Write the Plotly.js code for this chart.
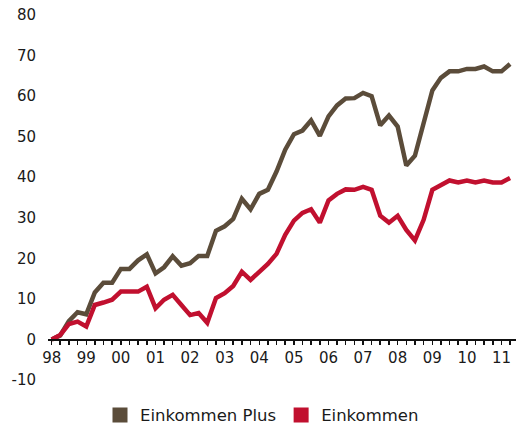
<!DOCTYPE html>
<html><head><meta charset="utf-8">
<script src="https://cdn.plot.ly/plotly-3.0.1.min.js"></script>
<style>html,body{margin:0;padding:0;background:#fff}#chart{width:524px;height:428px}</style>
</head><body><div id="chart"></div>
<script>
const quarters = [
  '1998-01','1998-04','1998-07','1998-10',
  '1999-01','1999-04','1999-07','1999-10',
  '2000-01','2000-04','2000-07','2000-10',
  '2001-01','2001-04','2001-07','2001-10',
  '2002-01','2002-04','2002-07','2002-10',
  '2003-01','2003-04','2003-07','2003-10',
  '2004-01','2004-04','2004-07','2004-10',
  '2005-01','2005-04','2005-07','2005-10',
  '2006-01','2006-04','2006-07','2006-10',
  '2007-01','2007-04','2007-07','2007-10',
  '2008-01','2008-04','2008-07','2008-10',
  '2009-01','2009-04','2009-07','2009-10',
  '2010-01','2010-04','2010-07','2010-10',
  '2011-01','2011-04'
];
const einkommenPlus = [
  0, 1, 4.5, 6.7, 6.2, 11.6, 14, 14, 17.4, 17.4, 19.5, 21,
  16.3, 17.8, 20.5, 18.2, 18.8, 20.6, 20.6, 26.8, 27.9, 29.7, 34.7, 32.1,
  35.9, 36.9, 41.4, 46.8, 50.6, 51.5, 54, 50.2, 55, 57.7, 59.4, 59.5,
  60.8, 60, 52.8, 55.2, 52.5, 42.9, 45.3, 53.3, 61.4, 64.5, 66.1, 66.1,
  66.7, 66.7, 67.3, 66.1, 66.1, 67.9
];
const einkommen = [
  0, 1.1, 3.8, 4.4, 3.2, 8.5, 9.1, 9.8, 11.8, 11.8, 11.8, 13,
  7.7, 9.8, 11, 8.5, 6, 6.5, 4.1, 10.2, 11.4, 13.2, 16.7, 14.7,
  16.5, 18.6, 21.1, 25.8, 29.3, 31.2, 32.1, 28.8, 34.3, 35.9, 37, 36.9,
  37.6, 36.9, 30.5, 28.8, 30.5, 27, 24.4, 29.5, 36.9, 38.1, 39.2, 38.7,
  39.2, 38.7, 39.2, 38.7, 38.7, 39.8
];
const seriesNames = ['Einkommen Plus', 'Einkommen'];
const yTickVals = [-10, 0, 10, 20, 30, 40, 50, 60, 70, 80];
const yTickText = ['-10', '0', '10', '20', '30', '40', '50', '60', '70', '80'];
const yRange = [-10, 80];
const xRange = ['1997-11-23', '2011-06-03'];

const brown = '#5b4c3a';
const red = '#c1102f';
const font = 'DejaVu Sans, sans-serif';

const traces = [
  {x: quarters, y: einkommenPlus, type: 'scatter', mode: 'lines', name: seriesNames[0],
   line: {color: brown, width: 4.5}, showlegend: false},
  {x: quarters, y: einkommen, type: 'scatter', mode: 'lines', name: seriesNames[1],
   line: {color: red, width: 4.5}, showlegend: false},
  {x: [null], y: [null], type: 'scatter', mode: 'markers', name: seriesNames[0],
   marker: {symbol: 'square', size: 15, color: brown}},
  {x: [null], y: [null], type: 'scatter', mode: 'markers', name: seriesNames[1],
   marker: {symbol: 'square', size: 15, color: red}}
];

const layout = {
  width: 524, height: 428,
  margin: {l: 48, r: 8, t: 15, b: 48},
  paper_bgcolor: '#fff', plot_bgcolor: '#fff',
  font: {family: font, color: '#1a1a1a', size: 15},
  xaxis: {
    type: 'date', range: xRange,
    anchor: 'free', position: -yRange[0] / (yRange[1] - yRange[0]),
    showline: true, linecolor: '#111', linewidth: 1.5,
    showgrid: false, zeroline: false,
    dtick: 'M12', tick0: '1998-01-01', tickformat: '%y',
    ticks: 'outside', ticklen: 4, tickwidth: 1.5, tickcolor: '#111',
    minor: {dtick: 'M3', ticks: 'outside', ticklen: 4, tickwidth: 1.5, tickcolor: '#111', showgrid: false},
    tickfont: {size: 15, family: font, color: '#1a1a1a'}
  },
  yaxis: {
    range: yRange, tickmode: 'array', tickvals: yTickVals, ticktext: yTickText, ticks: '',
    showgrid: false, zeroline: false, showline: false,
    ticklabelstandoff: 11,
    tickfont: {size: 15, family: font, color: '#1a1a1a'}
  },
  showlegend: true,
  legend: {
    orientation: 'h', xref: 'container', yref: 'container',
    x: 0.5, xanchor: 'center', y: 0.03, yanchor: 'middle',
    font: {size: 16.5, family: font, color: '#1a1a1a'}
  }
};

Plotly.newPlot('chart', traces, layout, {staticPlot: true, displayModeBar: false});
</script>
</body></html>
